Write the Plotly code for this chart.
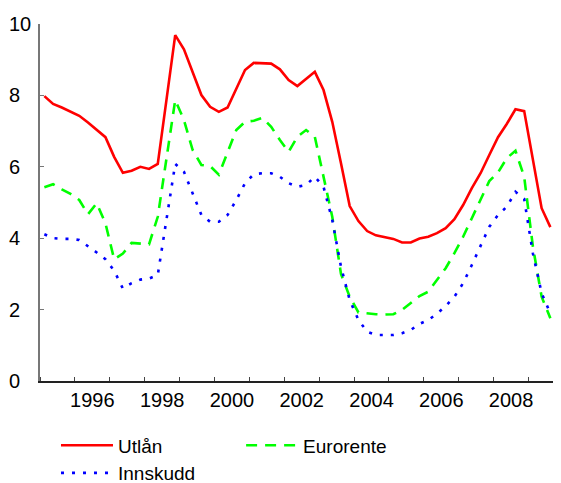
import plotly.graph_objects as go

# Quarterly data, 1995Q1 .. 2009Q3
start_year = 1995
utlan = [7.98, 7.76, 7.66, 7.54, 7.43, 7.24, 7.03, 6.83, 6.28, 5.83,
         5.89, 6.00, 5.94, 6.08, 7.88, 9.69, 9.29, 8.62, 8.01, 7.68,
         7.54, 7.66, 8.20, 8.71, 8.91, 8.91, 8.89, 8.73, 8.43, 8.26,
         8.45, 8.66, 8.15, 7.26, 6.10, 4.90, 4.48, 4.20, 4.08, 4.04,
         3.98, 3.88, 3.88, 3.99, 4.04, 4.14, 4.28, 4.53, 4.93, 5.40,
         5.82, 6.33, 6.83, 7.20, 7.61, 7.56, 6.19, 4.84, 4.31]
eurorente = [5.43, 5.51, 5.37, 5.24, 5.07, 4.67, 4.98, 4.42, 3.41, 3.57,
             3.87, 3.85, 3.83, 4.60, 6.20, 7.87, 7.31, 6.47, 6.05, 6.02,
             5.78, 6.42, 7.03, 7.26, 7.29, 7.37, 7.12, 6.75, 6.42, 6.84,
             7.03, 6.84, 5.72, 4.60, 3.00, 2.36, 1.92, 1.89, 1.87, 1.86,
             1.87, 1.99, 2.18, 2.38, 2.50, 2.83, 3.16, 3.58, 4.04, 4.56,
             5.07, 5.60, 5.84, 6.24, 6.45, 5.72, 3.76, 2.36, 1.76]
innskudd = [4.11, 4.00, 3.98, 3.98, 3.95, 3.78, 3.60, 3.41, 3.09, 2.59,
            2.74, 2.84, 2.87, 2.97, 4.51, 6.08, 5.86, 5.26, 4.65, 4.46,
            4.46, 4.65, 5.07, 5.54, 5.79, 5.82, 5.82, 5.72, 5.54, 5.44,
            5.49, 5.72, 5.44, 4.51, 3.20, 2.27, 1.71, 1.38, 1.29, 1.29,
            1.29, 1.34, 1.43, 1.60, 1.71, 1.88, 2.10, 2.36, 2.74, 3.25,
            3.81, 4.32, 4.65, 4.88, 5.30, 5.10, 3.57, 2.46, 1.89]

year_labels = ["1996", "1998", "2000", "2002", "2004", "2006", "2008"]
y_ticks = [0, 2, 4, 6, 8, 10]

x = [start_year + (i + 0.5) / 4 for i in range(len(utlan))]

FONT = "Liberation Sans, Arial, sans-serif"

fig = go.Figure()
fig.add_trace(go.Scatter(x=x, y=utlan, mode="lines", name="Utlån", legend="legend",
                         line=dict(color="#ff0000", width=2.6)))
fig.add_trace(go.Scatter(x=x, y=eurorente, mode="lines", name="Eurorente", legend="legend2",
                         line=dict(color="#00ff00", width=2.6, dash="11px,8px")))
fig.add_trace(go.Scatter(x=x, y=innskudd, mode="lines", name="Innskudd", legend="legend",
                         line=dict(color="#0000ff", width=2.6, dash="3px,8px")))

leg_common = dict(orientation="v", yanchor="top", y=-0.127, xanchor="left",
                  itemwidth=52, font=dict(family=FONT, size=19, color="black"),
                  traceorder="normal", bgcolor="rgba(0,0,0,0)", tracegroupgap=0)

fig.update_layout(
    width=553, height=475,
    margin=dict(l=32, r=0, t=16, b=102, pad=0, autoexpand=False),
    paper_bgcolor="white", plot_bgcolor="white",
    font=dict(family=FONT, size=20, color="black"),
    showlegend=True,
    legend=dict(x=0.0307, **leg_common),
    legend2=dict(x=0.386, **leg_common),
)

fig.update_xaxes(
    range=[1995, 2009.93], showgrid=False, zeroline=False,
    showline=True, linecolor="#222222", linewidth=1.5,
    tickmode="array",
    tickvals=[int(s) + 0.5 for s in year_labels], ticktext=year_labels,
    ticks="", ticklabelstandoff=0,
    minor=dict(tickmode="linear", tick0=1995, dtick=1, ticks="inside",
               ticklen=4, tickcolor="#444444", tickwidth=1, showgrid=False),
    tickfont=dict(family=FONT, size=20, color="black"),
)

fig.update_yaxes(
    range=[0, 10], showgrid=False, zeroline=False,
    showline=True, linecolor="#777777", linewidth=1.5,
    tickmode="array", tickvals=y_ticks,
    ticktext=[str(v) if v >= 10 else str(v) + "\u00a0\u00a0" for v in y_ticks],
    ticks="inside", ticklen=4, tickcolor="#777777", tickwidth=1,
    ticklabelstandoff=3,
    tickfont=dict(family=FONT, size=20, color="black"),
)

fig.write_html("out.html")
